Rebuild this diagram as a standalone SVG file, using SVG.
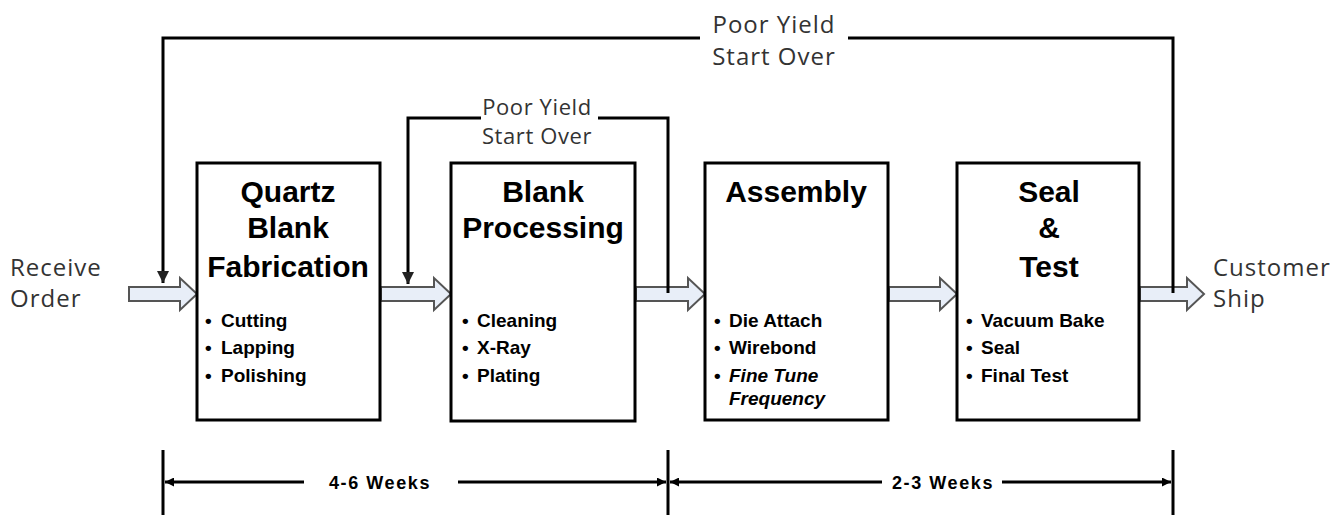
<svg xmlns="http://www.w3.org/2000/svg" width="1343" height="515" viewBox="0 0 1343 515">
<defs>
<style>
.box{fill:#fff;stroke:#000;stroke-width:3}
.blk{fill:#e8eef8;stroke:#555;stroke-width:2;stroke-linejoin:miter}
.ln{fill:none;stroke:#000;stroke-width:3}
.dim{fill:none;stroke:#000;stroke-width:3}
.ttl{font-family:"Liberation Sans",Arial,sans-serif;font-weight:bold;font-size:30px;fill:#000;text-anchor:middle}
.bul{font-family:"Liberation Sans",Arial,sans-serif;font-weight:bold;font-size:19px;fill:#000}
.lbl{font-family:"Open Sans","Noto Sans",sans-serif;font-size:24px;fill:#333;letter-spacing:1px}
.lbl2{font-family:"Open Sans","Noto Sans",sans-serif;font-size:22px;fill:#333;text-anchor:middle;letter-spacing:0.6px}
.wk{font-family:"Liberation Sans",Arial,sans-serif;font-weight:bold;font-size:18px;fill:#000;text-anchor:middle;letter-spacing:1.6px}
</style>
<marker id="down" viewBox="0 0 10 10" refX="10" refY="5" markerWidth="4.5" markerHeight="4" orient="auto" markerUnits="strokeWidth">
<path d="M0,0 L10,5 L0,10 Z" fill="#222"/>
</marker>
<marker id="dimA" viewBox="0 0 10 10" refX="10" refY="5" markerWidth="3" markerHeight="3" orient="auto" markerUnits="strokeWidth">
<path d="M0,0 L10,5 L0,10 Z" fill="#000"/>
</marker>
</defs>
<rect width="1343" height="515" fill="#fff"/>

<g id="connectors">
  <path class="blk" d="M129,287 L180,287 L180,278 L197,294 L180,310 L180,301 L129,301 Z"/>
  <path class="blk" d="M381,287 L434,287 L434,278 L451,294 L434,310 L434,301 L381,301 Z"/>
  <path class="blk" d="M636,287 L688,287 L688,278 L705,294 L688,310 L688,301 L636,301 Z"/>
  <path class="blk" d="M889,287 L940,287 L940,278 L957,294 L940,310 L940,301 L889,301 Z"/>
  <path class="blk" d="M1140,287 L1187,287 L1187,278 L1204,294 L1187,310 L1187,301 L1140,301 Z"/>
  <path class="ln" d="M1173,293 L1173,38 L848,38 M700,38 L163,38 L163,283" marker-end="url(#down)"/>
  <path class="ln" d="M668,293 L668,118 L598,118 M481,118 L408,118 L408,284" marker-end="url(#down)"/>
  <text class="lbl" x="774" y="33" text-anchor="middle">Poor Yield</text>
  <text class="lbl" x="774" y="65" text-anchor="middle">Start Over</text>
  <text class="lbl2" x="537" y="115">Poor Yield</text>
  <text class="lbl2" x="537" y="144">Start Over</text>
</g>

<g id="receive-order">
  <text class="lbl" x="10" y="276">Receive</text>
  <text class="lbl" x="10" y="307">Order</text>
</g>
<g id="customer-ship">
  <text class="lbl" x="1213" y="276">Customer</text>
  <text class="lbl" x="1213" y="307">Ship</text>
</g>

<g id="quartz-blank-fabrication">
  <rect class="box" x="197" y="163" width="183" height="257"/>
  <text class="ttl" x="288" y="202">Quartz</text>
  <text class="ttl" x="288" y="238">Blank</text>
  <text class="ttl" x="288" y="277">Fabrication</text>
  <text class="bul" x="205" y="327">•<tspan x="221">Cutting</tspan></text>
  <text class="bul" x="205" y="354">•<tspan x="221">Lapping</tspan></text>
  <text class="bul" x="205" y="382">•<tspan x="221">Polishing</tspan></text>
</g>

<g id="blank-processing">
  <rect class="box" x="451" y="163" width="184" height="258"/>
  <text class="ttl" x="543" y="202">Blank</text>
  <text class="ttl" x="543" y="238">Processing</text>
  <text class="bul" x="462" y="327">•<tspan x="477">Cleaning</tspan></text>
  <text class="bul" x="462" y="354">•<tspan x="477">X-Ray</tspan></text>
  <text class="bul" x="462" y="382">•<tspan x="477">Plating</tspan></text>
</g>

<g id="assembly">
  <rect class="box" x="705" y="163" width="183" height="257"/>
  <text class="ttl" x="796" y="202">Assembly</text>
  <text class="bul" x="714" y="327">•<tspan x="729">Die Attach</tspan></text>
  <text class="bul" x="714" y="354">•<tspan x="729">Wirebond</tspan></text>
  <text class="bul" x="714" y="382">•<tspan x="729" font-style="italic">Fine Tune</tspan></text>
  <text class="bul" x="729" y="405" font-style="italic">Frequency</text>
</g>

<g id="seal-test">
  <rect class="box" x="957" y="163" width="182" height="257"/>
  <text class="ttl" x="1049" y="202">Seal</text>
  <text class="ttl" x="1049" y="238">&amp;</text>
  <text class="ttl" x="1049" y="277">Test</text>
  <text class="bul" x="966" y="327">•<tspan x="981">Vacuum Bake</tspan></text>
  <text class="bul" x="966" y="354">•<tspan x="981">Seal</tspan></text>
  <text class="bul" x="966" y="382">•<tspan x="981">Final Test</tspan></text>
</g>

<g id="timeline">
  <path class="dim" d="M163,450 L163,515 M668,450 L668,515 M1173,450 L1173,515"/>
  <path class="dim" d="M304,482 L165,482" marker-end="url(#dimA)"/>
  <path class="dim" d="M458,482 L666,482" marker-end="url(#dimA)"/>
  <path class="dim" d="M882,482 L670,482" marker-end="url(#dimA)"/>
  <path class="dim" d="M1002,482 L1171,482" marker-end="url(#dimA)"/>
  <text class="wk" x="380" y="489">4-6 Weeks</text>
  <text class="wk" x="943" y="489">2-3 Weeks</text>
</g>
</svg>
